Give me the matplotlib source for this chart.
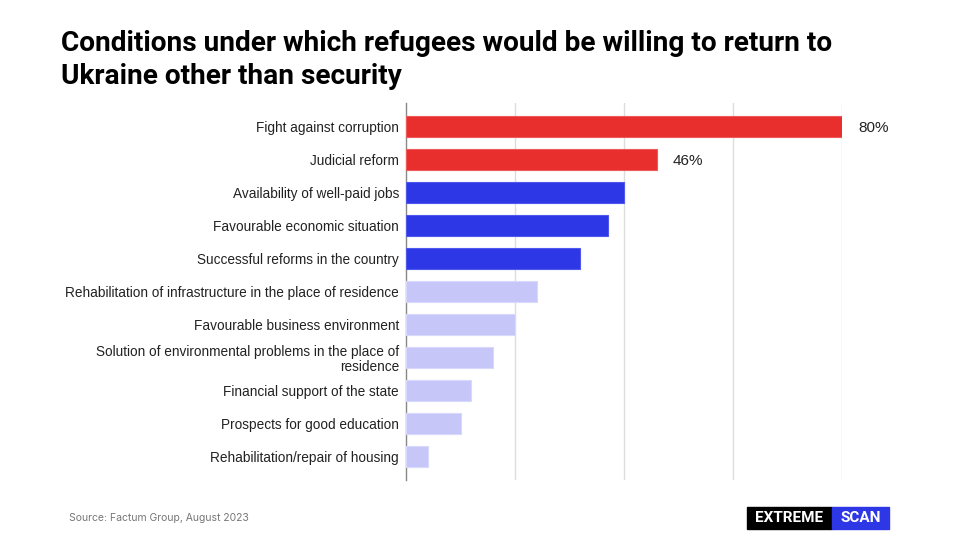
import matplotlib.pyplot as plt
from matplotlib.patches import Rectangle

# Data
categories = [
    'Fight against corruption',
    'Judicial reform',
    'Availability of well-paid jobs',
    'Favourable economic situation',
    'Successful reforms in the country',
    'Rehabilitation of infrastructure in the place of residence',
    'Favourable business environment',
    'Solution of environmental problems in the place of\nresidence',
    'Financial support of the state',
    'Prospects for good education',
    'Rehabilitation/repair of housing',
]
values = [80, 46, 40, 37, 32, 24, 20, 16, 12, 10, 4]
groups = ['top', 'top', 'mid', 'mid', 'mid', 'low', 'low', 'low', 'low', 'low', 'low']
shown_labels = ['80%', '46%'] + [''] * 9

colors = {'top': '#E92E2E', 'mid': '#2E37E6', 'low': '#C6C7F8'}
edges = {'top': '#EE5A5A', 'mid': '#5057EC', 'low': '#D8D9FB'}

fig = plt.figure(figsize=(9.6, 5.4), dpi=100)
ax = fig.add_axes([406 / 960, 1 - 480 / 540, (842 - 406) / 960, (480 - 103) / 540])

y = list(range(len(categories)))
ax.barh(y, values, height=0.64,
        color=[colors[g] for g in groups],
        edgecolor=[edges[g] for g in groups], linewidth=0.8, zorder=3)

for yi, v, lab in zip(y, values, shown_labels):
    if lab:
        ax.text(v + 3, yi, lab, va='center_baseline', ha='left', fontsize=11,
                family='Liberation Sans', color='#222222')

ax.set_xlim(0, 80)
ax.set_ylim(10.7, -0.7)
ax.set_xticks([20, 40, 60, 80])
ax.xaxis.grid(True, color='#DDDDDD', linewidth=1, zorder=0)
ax.tick_params(axis='x', length=0, labelbottom=False)
ax.set_yticks(y)
ax.set_yticklabels(categories, fontsize=9.8, family='Liberation Sans', color='#222222',
                   linespacing=1.1)
ax.tick_params(axis='y', length=0, pad=5)
for s in ['top', 'right', 'bottom']:
    ax.spines[s].set_visible(False)
ax.spines['left'].set_color('#888888')
ax.spines['left'].set_linewidth(1)

# Title
fig.text(61 / 960, 1 - 60 / 540,
         'Conditions under which refugees would be willing to return to\nUkraine other than security',
         fontsize=20.2, fontweight='bold', family='Roboto', color='#000000',
         va='center', ha='left', linespacing=1.25)

# Source
fig.text(69 / 960, 1 - 518 / 540, 'Source: Factum Group, August 2023',
         fontsize=7.5, family='Inter', color='#777777', va='center', ha='left')

# Logo
fig.patches.append(Rectangle((747 / 960, 1 - 529 / 540), 85 / 960, 22 / 540,
                             transform=fig.transFigure, color='#000000'))
fig.patches.append(Rectangle((832 / 960, 1 - 529 / 540), 57 / 960, 22 / 540,
                             transform=fig.transFigure, color='#2E37E6'))
fig.text(789.5 / 960, 1 - 518 / 540, 'EXTREME', fontsize=11, fontweight='bold',
         family='Roboto', color='white', va='center', ha='center')
fig.text(860.5 / 960, 1 - 518 / 540, 'SCAN', fontsize=11, fontweight='bold',
         family='Roboto', color='white', va='center', ha='center')

fig.savefig('out.png', dpi=100)
